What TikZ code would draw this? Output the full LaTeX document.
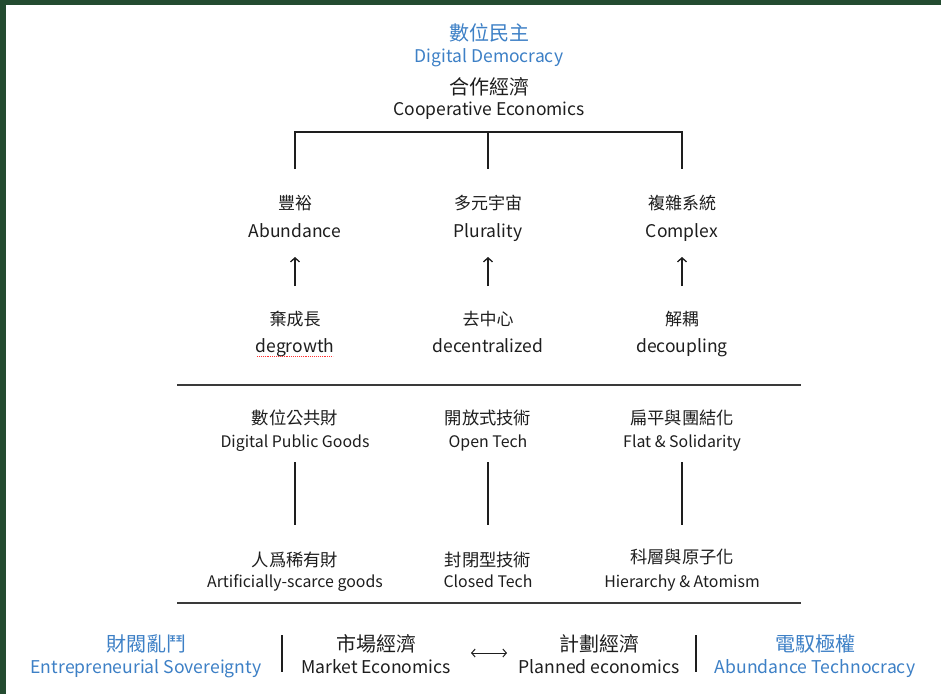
\documentclass[tikz,border=0pt]{standalone}
\usepackage{fontspec}
\setmainfont{Noto Sans CJK TC}
\usetikzlibrary{arrows.meta}
\definecolor{bord}{HTML}{234B30}
\definecolor{blu}{HTML}{3D80C6}
\definecolor{ink}{HTML}{1E1E1E}
\definecolor{rulec}{HTML}{3A3A3A}
\begin{document}
\begin{tikzpicture}[x=1pt,y=-1pt,
  every node/.style={inner sep=0pt,text=ink},
  zhA/.style={font=\fontsize{20}{24}\selectfont},
  enA/.style={font=\fontsize{17.5}{22}\selectfont,anchor=base},
  zhB/.style={font=\fontsize{17}{20}\selectfont},
  enB/.style={font=\fontsize{17.5}{22}\selectfont,anchor=base},
  zhC/.style={font=\fontsize{17.3}{20}\selectfont},
  enC/.style={font=\fontsize{15.9}{20}\selectfont,anchor=base},
  zhD/.style={font=\fontsize{20}{24}\selectfont},
  enD/.style={font=\fontsize{17.6}{22}\selectfont,anchor=base},
  blue/.style={text=blu},
  ln/.style={draw=ink,line width=1.3pt},
  rl/.style={draw=rulec,line width=2pt},
  arr/.style={draw=ink,line width=1.2pt,-{Straight Barb[length=4pt,width=9pt,line width=1.3pt]}},
  darr/.style={draw=ink,line width=1pt,{Straight Barb[length=3.5pt,width=8pt]}-{Straight Barb[length=3.5pt,width=8pt]}}
]
% background and border
\fill[bord] (0,0) rectangle (941,694);
\fill[white] (6,5) rectangle (941,694);
\useasboundingbox (0,0) rectangle (941,694);

% top
\node[zhA,blue] (ddz) at (489,33) {數位民主};
\node[enA,blue] (dd) at (489,62) {Digital Democracy};
\node[zhA] (cez) at (489,87) {合作經濟};
\node[enA] (ce) at (489,115) {Cooperative Economics};

% level 2
\node[zhB] (abz) at (295,203) {豐裕};
\node[enB] (ab) at (295,237) {Abundance};
\node[zhB] (plz) at (488,203) {多元宇宙};
\node[enB] (pl) at (488,237) {Plurality};
\node[zhB] (cxz) at (682,203) {複雜系統};
\node[enB] (cx) at (682,237) {Complex};

% level 3
\node[zhB] (dgz) at (295,319) {棄成長};
\node[enB] (dg) at (295,352) {degrowth};
\node[zhB] (dcz) at (488,319) {去中心};
\node[enB] (dc) at (488,352) {decentralized};
\node[zhB] (duz) at (682,319) {解耦};
\node[enB] (du) at (682,352) {decoupling};

% bracket
\coordinate (j) at (488,132);
\draw[ln] (abz |- 0,169) -- (abz |- j) -- (cxz |- j) -- (cxz |- 0,169);
\draw[ln] (j) -- (plz |- 0,169);

% arrows
\draw[arr] (dgz |- 0,286) -- (ab |- 0,257);
\draw[arr] (dcz |- 0,286) -- (pl |- 0,257);
\draw[arr] (duz |- 0,286) -- (cx |- 0,257);

% spellcheck squiggle
\draw[red!80,densely dotted,line width=0.9pt] (257,356) -- (333,356);

% rules
\draw[rl] (177,385) -- (801,385);
\draw[rl] (177,603) -- (801,603);

% middle
\node[zhC] (dpz) at (295,418) {數位公共財};
\node[enC] (dp) at (295,447) {Digital Public Goods};
\node[zhC] (otz) at (488,418) {開放式技術};
\node[enC] (ot) at (488,447) {Open Tech};
\node[zhC] (fsz) at (682,418) {扁平與團結化};
\node[enC] (fs) at (682,447) {Flat \& Solidarity};

\node[zhC] (asz) at (295,560) {人爲稀有財};
\node[enC] (as) at (295,587) {Artificially-scarce goods};
\node[zhC] (ctz) at (488,560) {封閉型技術};
\node[enC] (ct) at (488,587) {Closed Tech};
\node[zhC] (haz) at (682,557) {科層與原子化};
\node[enC] (ha) at (682,587) {Hierarchy \& Atomism};

\draw[ln] (dp |- 0,462) -- (asz |- 0,525);
\draw[ln] (ot |- 0,462) -- (ctz |- 0,525);
\draw[ln] (fs |- 0,462) -- (haz |- 0,525);

% bottom
\node[zhD,blue] (esz) at (146,644) {財閥亂鬥};
\node[enD,blue] (es) at (146,673) {Entrepreneurial Sovereignty};
\node[zhD] (mez) at (376,644) {市場經濟};
\node[enD] (me) at (376,673) {Market Economics};
\node[zhD] (pez) at (599,644) {計劃經濟};
\node[enD] (pe) at (599,673) {Planned economics};
\node[zhD,blue] (atz) at (815,644) {電馭極權};
\node[enD,blue] (at) at (815,673) {Abundance Technocracy};

\draw[ln] (282,635) -- (282,672);
\draw[ln] (696,635) -- (696,672);
\coordinate (la) at (471,653);
\coordinate (lb) at (507,653);
\draw[darr] (la) -- (lb);
\end{tikzpicture}
\end{document}
